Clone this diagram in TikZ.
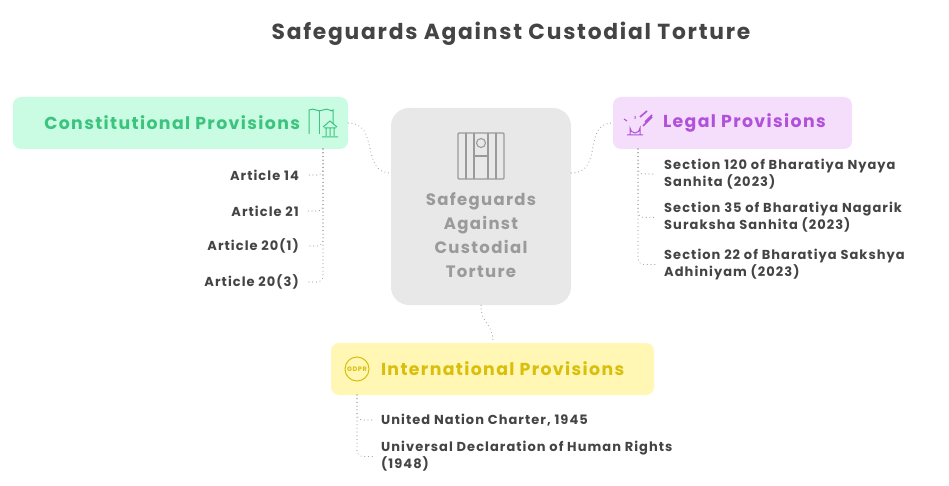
\documentclass[tikz,border=0pt]{standalone}
\usepackage{fontspec}
\setmainfont{Poppins}[LetterSpace=8]
\usetikzlibrary{positioning,calc}
\definecolor{ink}{HTML}{444444}
\definecolor{mintbg}{HTML}{C9FCE2}
\definecolor{mintfg}{HTML}{3CC47F}
\definecolor{lilabg}{HTML}{F4DEFC}
\definecolor{lilafg}{HTML}{B150DA}
\definecolor{lemonbg}{HTML}{FFF7B3}
\definecolor{lemonfg}{HTML}{D9BE0B}
\definecolor{hubbg}{HTML}{E8E8E8}
\definecolor{hubfg}{HTML}{9A9A9A}
\tikzstyle{catbox}=[rectangle, rounded corners=8pt, inner sep=0pt]
\tikzstyle{cattext}=[inner sep=0pt, font=\bfseries\fontsize{17.3}{18}\selectfont]
\tikzstyle{item}=[inner sep=0pt, font=\bfseries\fontsize{13}{17}\selectfont, text=ink]
\tikzstyle{dline}=[draw=gray!70, line width=1.1pt, dash pattern=on 0.1pt off 3.6pt, line cap=round, rounded corners=6pt]
\begin{document}
\begin{tikzpicture}[x=1pt,y=-1pt]
\useasboundingbox (0,0) rectangle (949,486);
\node (TTL) at (511,34) [font=\bfseries\fontsize{21.8}{22}\selectfont, text=ink] {Safeguards Against Custodial Torture};
% hub
\node (HUB) [fill=hubbg, rounded corners=18pt, minimum width=180pt, minimum height=197pt] at (481,206.5) {};
\node (HUBT) at (481,235) [align=center, text=hubfg, font=\bfseries\fontsize{16.5}{24}\selectfont] {Safeguards\\Against\\Custodial\\Torture};
\draw[hubfg, line width=1.2pt, rounded corners=1pt] (458,133) rectangle (504,179);
\foreach \bx in {466,474,488,496} \draw[hubfg, line width=1.1pt] (\bx,133) -- (\bx,179);
\draw[hubfg, line width=1.1pt] (481,143) circle (4.5pt);
\draw[hubfg, line width=1.1pt] (474,179) -- (474,156) -- (488,156) -- (488,179);
% categories
\node (CON) [catbox, fill=mintbg, minimum width=335pt, minimum height=52pt] at (180.5,123) {};
\node (CONT) [cattext, text=mintfg, left=48pt of CON.east] {Constitutional Provisions};
\draw[mintfg, line width=1pt] (309,134) -- (309,110) .. controls (314,107) and (318,113) .. (323,110) .. controls (328,107) and (332,113) .. (333,110) -- (333,124);
\draw[mintfg, line width=1pt] (319,111) -- (319,134);
\draw[mintfg, line width=1pt] (324,128) -- (336,128) (322,137) -- (338,137) (326,128) -- (326,136) (330,128) -- (330,136) (334,128) -- (334,136) (323,127) -- (330,121) -- (337,127);
\node (LEG) [catbox, fill=lilabg, minimum width=239pt, minimum height=52pt] at (732.5,123) {};
\node (LEGT) [cattext, text=lilafg, right=50pt of LEG.west] {Legal Provisions};
\draw[lilafg, line width=1pt] (630,135) -- (630,128) arc (180:0:5) -- (640,135) -- cycle (627,135) -- (643,135);
\draw[lilafg, line width=1.6pt] (643,126) -- (652,117) (640,117) -- (647,111) (645,122) -- (652,115);
\draw[lilafg, line width=1pt] (627,121) -- (624,119) (635,119) -- (635,116);
\node (INT) [catbox, fill=lemonbg, minimum width=323pt, minimum height=52pt] at (492.5,369) {};
\node (INTT) [cattext, text=lemonfg, right=50pt of INT.west] {International Provisions};
\draw[lemonfg, line width=1pt] (357,369) circle (12pt);
\node (GDPR) at (357,369) [fill=lemonbg, inner sep=0.5pt, text=lemonfg, font=\bfseries\fontsize{6.5}{8}\selectfont] {GDPR};
% items
\node (A14) [item, anchor=east] at (299,175) {Article 14};
\node (A21) [item, anchor=east] at (299,211) {Article 21};
\node (A201) [item, anchor=east] at (299,246) {Article 20(1)};
\node (A203) [item, anchor=east] at (299,282) {Article 20(3)};
\node (S120) [item, anchor=west, align=left] at (664,174) {Section 120 of Bharatiya Nyaya\\Sanhita (2023)};
\node (S35) [item, anchor=west, align=left] at (664,217.5) {Section 35 of Bharatiya Nagarik\\Suraksha Sanhita (2023)};
\node (S22) [item, anchor=west, align=left] at (664,264.5) {Section 22 of Bharatiya Sakshya\\Adhiniyam (2023)};
\node (UNC) [item, anchor=west] at (381,420) {United Nation Charter, 1945};
\node (UDHR) [item, anchor=west, align=left] at (381,456.5) {Universal Declaration of Human Rights\\(1948)};
% connectors
\draw[dline] (CON.east |- 0,123) .. controls (380,123) and (360,173) .. (HUB.west |- 0,173);
\draw[dline] (HUB.east |- 0,173) .. controls (604,173) and (582,123) .. (LEG.west |- 0,123);
\draw[dline] (HUB.south -| 481,0) .. controls (481,325) and (493,322) .. (INT.north -| 493,0);
\foreach \n in {A14,A21,A201,A203} \draw[dline] (323,149) |- ($(\n.east)+(8,0)$);
\foreach \n in {S120,S35,S22} \draw[dline] (638,149) |- ($(\n.west)+(-8,0)$);
\foreach \n in {UNC,UDHR} \draw[dline] (357,395) |- ($(\n.west)+(-8,0)$);
\end{tikzpicture}
\end{document}
